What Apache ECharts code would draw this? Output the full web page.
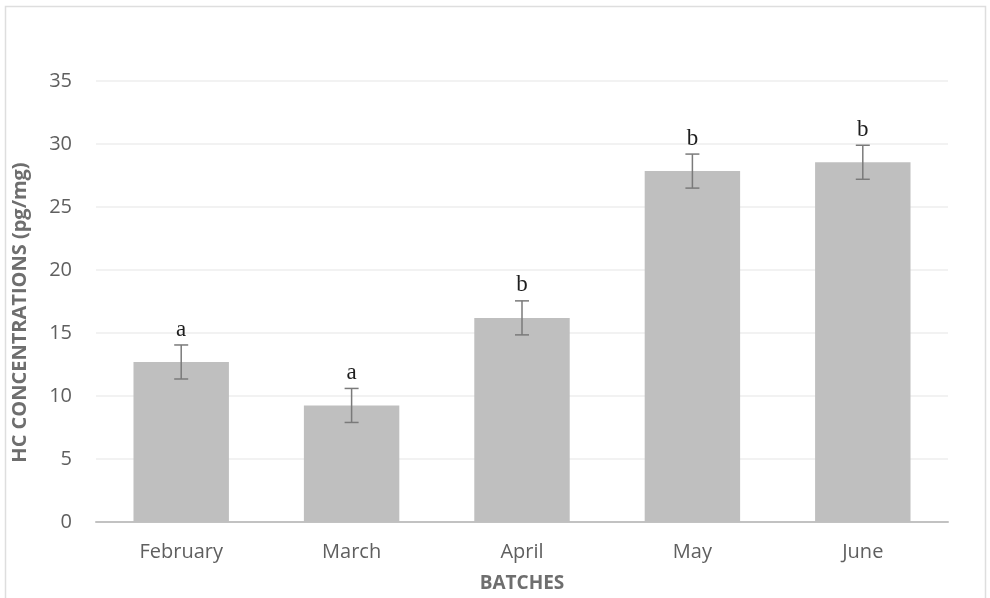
<!DOCTYPE html>
<html>
<head>
<meta charset="utf-8">
<script src="https://cdn.jsdelivr.net/npm/echarts@6/dist/echarts.min.js"></script>
<style>
  html, body { margin: 0; padding: 0; background: #ffffff; }
  #chart { width: 990px; height: 598px; }
</style>
</head>
<body>
<div id="chart"></div>
<script>
// Hydrocarbon concentration per batch (pg/mg), with standard error and significance groups
const batches = ['February', 'March', 'April', 'May', 'June'];
const meanValues = [12.7, 9.25, 16.2, 27.85, 28.55];
const errorValues = [1.35, 1.35, 1.35, 1.35, 1.35];
const groupLetters = ['a', 'a', 'b', 'b', 'b'];
const yTicks = [0, 5, 10, 15, 20, 25, 30, 35];

const chart = echarts.init(document.getElementById('chart'), null, { renderer: 'canvas' });

const errorData = batches.map((b, i) => [i, meanValues[i] - errorValues[i], meanValues[i] + errorValues[i], groupLetters[i]]);

const option = {
  backgroundColor: '#ffffff',
  animation: false,
  graphic: [{
    type: 'rect',
    shape: { x: 5.5, y: 6.5, width: 980, height: 600 },
    style: { fill: 'none', stroke: '#dedede', lineWidth: 1.5 },
    silent: true
  }],
  grid: { left: 96, right: 42, top: 81, bottom: 76, outerBoundsMode: 'none', containLabel: false },
  xAxis: {
    type: 'category',
    data: batches,
    name: 'BATCHES',
    nameLocation: 'middle',
    nameGap: 52,
    nameTextStyle: { fontFamily: 'Open Sans', fontWeight: 'bold', fontSize: 19, color: '#6e6e6e' },
    axisLine: { lineStyle: { color: '#c2c2c2', width: 2 } },
    axisTick: { show: false },
    axisLabel: { fontFamily: 'Open Sans', fontSize: 20, color: '#5f5f5f', margin: 20 }
  },
  yAxis: {
    type: 'value',
    min: yTicks[0],
    max: yTicks[yTicks.length - 1],
    interval: 5,
    name: 'HC CONCENTRATIONS (pg/mg)',
    nameLocation: 'middle',
    nameGap: 66,
    nameRotate: 90,
    nameTextStyle: { fontFamily: 'Open Sans', fontWeight: 'bold', fontSize: 20, color: '#6e6e6e', padding: [0, 22, 0, 0] },
    axisLine: { show: false },
    axisTick: { show: false },
    splitLine: { lineStyle: { color: '#eeeeee', width: 1.5 } },
    axisLabel: { fontFamily: 'Open Sans', fontSize: 20, color: '#5f5f5f', margin: 24 }
  },
  series: [
    {
      type: 'bar',
      data: meanValues,
      barWidth: '56%',
      itemStyle: { color: '#bfbfbf' },
      z: 2
    },
    {
      type: 'custom',
      data: errorData,
      z: 5,
      renderItem: function (params, api) {
        const x = api.coord([api.value(0), 0])[0];
        const lo = api.coord([api.value(0), api.value(1)])[1];
        const hi = api.coord([api.value(0), api.value(2)])[1];
        const half = 7;
        const stroke = { stroke: '#7a7a7a', lineWidth: 1.5 };
        return {
          type: 'group',
          children: [
            { type: 'line', shape: { x1: x, y1: hi, x2: x, y2: lo }, style: stroke },
            { type: 'line', shape: { x1: x - half, y1: hi, x2: x + half, y2: hi }, style: stroke },
            { type: 'line', shape: { x1: x - half, y1: lo, x2: x + half, y2: lo }, style: stroke },
            {
              type: 'text',
              x: x,
              y: hi - 4,
              style: {
                text: groupLetters[params.dataIndex],
                fontFamily: 'Liberation Serif',
                fontSize: 23,
                fill: '#1e1e1e',
                align: 'center',
                verticalAlign: 'bottom'
              }
            }
          ]
        };
      }
    }
  ]
};

chart.setOption(option);
</script>
</body>
</html>
